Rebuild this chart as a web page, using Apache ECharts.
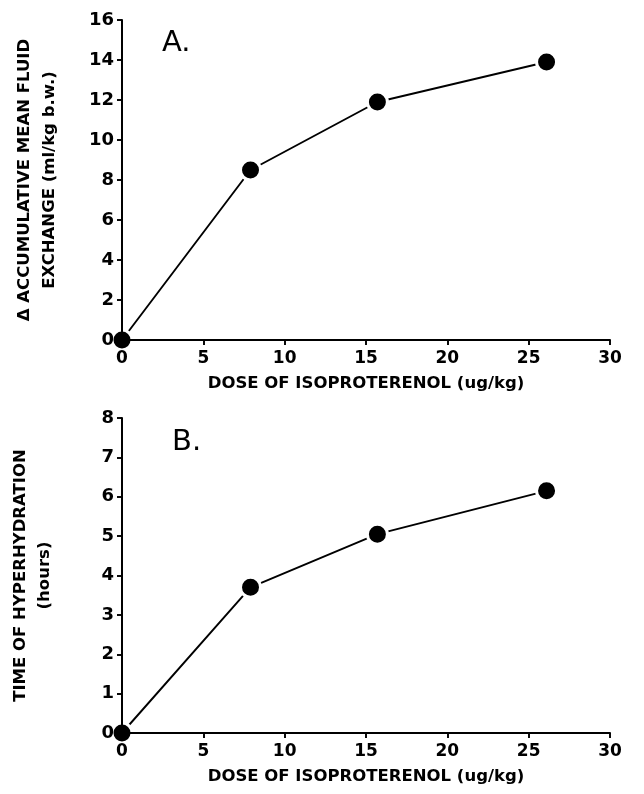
<!DOCTYPE html>
<html>
<head>
<meta charset="utf-8">
<script src="https://cdn.jsdelivr.net/npm/echarts@6/dist/echarts.min.js"></script>
<style>
  html, body { margin: 0; padding: 0; background: #fff; }
  #chart { width: 644px; height: 794px; }
</style>
</head>
<body>
<div id="chart"></div>
<script>
// Dose of isoproterenol (ug/kg), shared by both panels
const doses = [0, 7.9, 15.7, 26.1];
// Panel A: accumulative mean fluid exchange (ml/kg b.w.)
const fluidExchange = [0, 8.5, 11.9, 13.9];
// Panel B: time of hyperhydration (hours)
const hyperhydrationHours = [0, 3.7, 5.05, 6.15];

const xTicks = { min: 0, max: 30, interval: 5 };
const yTicksA = { min: 0, max: 16, interval: 2 };
const yTicksB = { min: 0, max: 8, interval: 1 };

const xTitle = 'DOSE OF ISOPROTERENOL (ug/kg)';
const yTitleA = 'Δ ACCUMULATIVE MEAN FLUID\nEXCHANGE (ml/kg b.w.)';
const yTitleB = 'TIME OF HYPERHYDRATION\n(hours)';

const FONT = 'DejaVu Sans';
const INK = '#000';

function pairs(xs, ys) { return xs.map((x, i) => [x, ys[i]]); }

// Two overlapping axes per side so each tick mark crosses the axis line
function xAxisPair(gridIndex) {
  const base = { type: 'value', gridIndex, ...xTicks, splitLine: { show: false }, z: 4 };
  return [
    {
      ...base,
      name: xTitle, nameLocation: 'middle', nameGap: 35,
      nameTextStyle: { fontFamily: FONT, fontSize: 16.5, fontWeight: 'bold', color: INK },
      axisLine: { show: true, lineStyle: { color: INK, width: 2 } },
      axisTick: { show: true, inside: false, length: 5, lineStyle: { color: INK, width: 1.6 } },
      axisLabel: { fontFamily: FONT, fontSize: 17, fontWeight: 'bold', color: INK, margin: 10 },
    },
    {
      ...base,
      axisLine: { show: false },
      axisTick: { show: true, inside: true, length: 5, lineStyle: { color: INK, width: 1.6 } },
      axisLabel: { show: false },
    },
  ];
}

function yAxisPair(gridIndex, ticks, title, gap, lineHeight) {
  const base = { type: 'value', gridIndex, ...ticks, splitLine: { show: false }, z: 4 };
  return [
    {
      ...base,
      name: title, nameLocation: 'middle', nameGap: gap, nameRotate: 90,
      nameTextStyle: { fontFamily: FONT, fontSize: 16.5, fontWeight: 'bold', color: INK, lineHeight, align: 'center' },
      axisLine: { show: true, lineStyle: { color: INK, width: 2 } },
      axisTick: { show: true, inside: false, length: 5, lineStyle: { color: INK, width: 1.6 } },
      axisLabel: { fontFamily: FONT, fontSize: 18, fontWeight: 'bold', color: INK, margin: 8 },
    },
    {
      ...base,
      axisLine: { show: false },
      axisTick: { show: true, inside: true, length: 5, lineStyle: { color: INK, width: 1.6 } },
      axisLabel: { show: false },
    },
  ];
}

function doseSeries(xAxisIndex, yAxisIndex, values) {
  return {
    type: 'line',
    xAxisIndex, yAxisIndex,
    data: pairs(doses, values),
    symbol: 'circle',
    symbolSize: 20,
    showAllSymbol: true,
    lineStyle: { color: INK, width: 1.9 },
    itemStyle: { color: INK, borderColor: '#fff', borderWidth: 3 },
    emphasis: { disabled: true },
    z: 2,
    animation: false,
  };
}

const chart = echarts.init(document.getElementById('chart'), null, { renderer: 'canvas' });
chart.setOption({
  backgroundColor: '#fff',
  animation: false,
  grid: [
    { left: 122, width: 488, top: 20, height: 320, containLabel: false, outerBoundsMode: 'none' },
    { left: 122, width: 488, top: 418, height: 315, containLabel: false, outerBoundsMode: 'none' },
  ],
  xAxis: [...xAxisPair(0), ...xAxisPair(1)],
  yAxis: [
    ...yAxisPair(0, yTicksA, yTitleA, 60, 25),
    ...yAxisPair(1, yTicksB, yTitleB, 65, 24),
  ],
  series: [
    doseSeries(0, 0, fluidExchange),
    doseSeries(2, 2, hyperhydrationHours),
  ],
  graphic: [
    { type: 'text', left: 162, top: 29, style: { text: 'A.', font: '29px "DejaVu Sans"', fill: INK } },
    { type: 'text', left: 172, top: 428, style: { text: 'B.', font: '29px "DejaVu Sans"', fill: INK } },
  ],
});
</script>
</body>
</html>
